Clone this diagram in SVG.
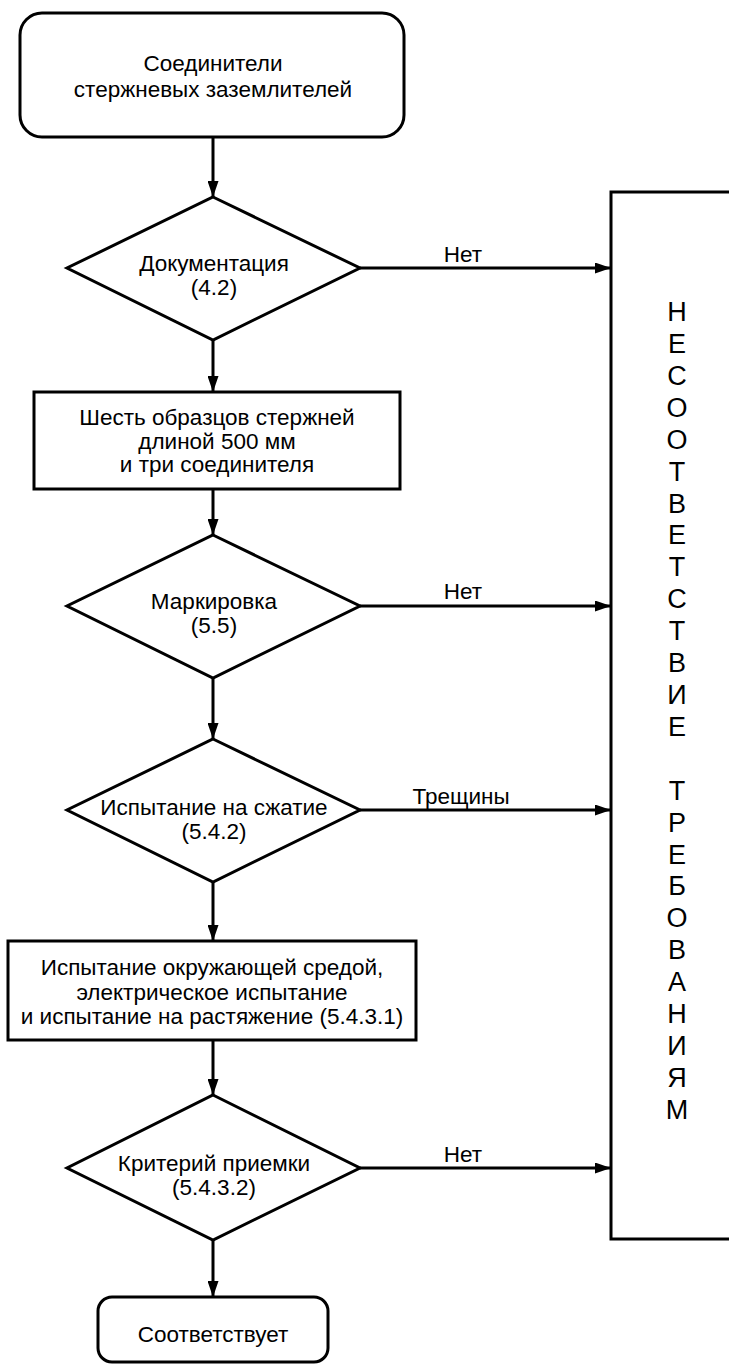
<svg xmlns="http://www.w3.org/2000/svg" width="729" height="1366" viewBox="0 0 729 1366">
<style>
.s{fill:#fff;stroke:#000;stroke-width:3}
.t{font-family:"Liberation Sans",Arial,sans-serif;font-size:22.5px;text-anchor:middle;fill:#000}
.v{font-family:"Liberation Sans",Arial,sans-serif;font-size:27px;text-anchor:middle;fill:#000}
.c{stroke:#000;stroke-width:3;fill:none;marker-end:url(#a)}
</style>
<defs>
<marker id="a" viewBox="0 0 16 11" refX="16" refY="5.5" markerWidth="16" markerHeight="11" markerUnits="userSpaceOnUse" orient="auto">
<path d="M0,0 L16,5.5 L0,11 Z" fill="#000"/>
</marker>
</defs>
<rect width="729" height="1366" fill="#fff"/>
<g id="connectors">
<line class="c" x1="213" y1="137" x2="213" y2="197"/>
<line class="c" x1="360" y1="268" x2="611" y2="268"/>
<line class="c" x1="213" y1="340" x2="213" y2="392"/>
<line class="c" x1="213" y1="489" x2="213" y2="535"/>
<line class="c" x1="360" y1="606" x2="611" y2="606"/>
<line class="c" x1="213" y1="678" x2="213" y2="739"/>
<line class="c" x1="360" y1="810" x2="611" y2="810"/>
<line class="c" x1="213" y1="882" x2="213" y2="941"/>
<line class="c" x1="213" y1="1040" x2="213" y2="1095"/>
<line class="c" x1="360" y1="1168" x2="611" y2="1168"/>
<line class="c" x1="213" y1="1240" x2="213" y2="1297"/>
<text class="t" x="463" y="262">Нет</text>
<text class="t" x="463" y="599">Нет</text>
<text class="t" x="461" y="804">Трещины</text>
<text class="t" x="463" y="1162">Нет</text>
</g>
<g id="start">
<rect class="s" x="20" y="13" width="384" height="124" rx="22"/>
<text class="t" x="213" y="71">Соединители</text>
<text class="t" x="213" y="97">стержневых заземлителей</text>
</g>
<g id="doc">
<polygon class="s" points="213,197 360,268 213,340 67,268"/>
<text class="t" x="214" y="271">Документация</text>
<text class="t" x="214" y="295">(4.2)</text>
</g>
<g id="samples">
<rect class="s" x="34" y="392" width="366" height="97"/>
<text class="t" x="217" y="425">Шесть образцов стержней</text>
<text class="t" x="217" y="449">длиной 500 мм</text>
<text class="t" x="217" y="472">и три соединителя</text>
</g>
<g id="marking">
<polygon class="s" points="213,535 360,606 213,678 67,606"/>
<text class="t" x="214" y="609">Маркировка</text>
<text class="t" x="214" y="633">(5.5)</text>
</g>
<g id="compress">
<polygon class="s" points="213,739 360,810 213,882 67,810"/>
<text class="t" x="214" y="815">Испытание на сжатие</text>
<text class="t" x="214" y="839">(5.4.2)</text>
</g>
<g id="env">
<rect class="s" x="8" y="941" width="408" height="99"/>
<text class="t" x="212" y="975">Испытание окружающей средой,</text>
<text class="t" x="212" y="999.5">электрическое испытание</text>
<text class="t" x="212" y="1024">и испытание на растяжение (5.4.3.1)</text>
</g>
<g id="accept">
<polygon class="s" points="213,1095 360,1168 213,1240 67,1168"/>
<text class="t" x="214" y="1171">Критерий приемки</text>
<text class="t" x="214" y="1195">(5.4.3.2)</text>
</g>
<g id="ok">
<rect class="s" x="98" y="1297" width="230" height="65" rx="14"/>
<text class="t" x="213" y="1342">Соответствует</text>
</g>
<g id="nonconf">
<path class="s" d="M731,192 H611 V1239 H731"/>
<g class="v">
<text x="677" y="321">Н</text>
<text x="677" y="353">Е</text>
<text x="677" y="385">С</text>
<text x="677" y="417">О</text>
<text x="677" y="449">О</text>
<text x="677" y="481">Т</text>
<text x="677" y="513">В</text>
<text x="677" y="544">Е</text>
<text x="677" y="576">Т</text>
<text x="677" y="608">С</text>
<text x="677" y="640">Т</text>
<text x="677" y="672">В</text>
<text x="677" y="704">И</text>
<text x="677" y="736">Е</text>
<text x="677" y="800">Т</text>
<text x="677" y="832">Р</text>
<text x="677" y="864">Е</text>
<text x="677" y="895">Б</text>
<text x="677" y="927">О</text>
<text x="677" y="959">В</text>
<text x="677" y="991">А</text>
<text x="677" y="1023">Н</text>
<text x="677" y="1055">И</text>
<text x="677" y="1087">Я</text>
<text x="677" y="1119">М</text>
</g>
</g>
</svg>
